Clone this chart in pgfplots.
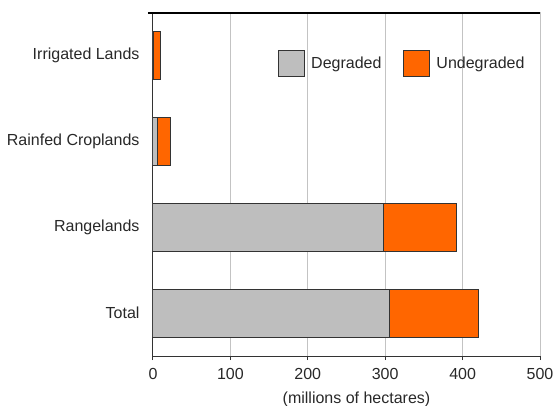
\documentclass[border=0pt]{standalone}
\usepackage{pgfplots}
\pgfplotsset{compat=1.18}
\usepackage{fontspec}
\setmainfont{Liberation Sans}
\definecolor{degr}{RGB}{190,190,190}
\definecolor{undeg}{RGB}{255,102,0}
\definecolor{edge}{RGB}{51,51,51}
\definecolor{gridc}{RGB}{195,195,195}
\definecolor{txt}{RGB}{40,40,40}

\begin{document}
\fontsize{16bp}{19bp}\selectfont
\begin{tikzpicture}
\useasboundingbox (-153bp,-50bp) rectangle (400bp,356bp);
\begin{axis}[
  scale only axis,
  width=387bp, height=343.5bp,
  xbar stacked, bar width=48bp,
  xmin=0, xmax=500, ymin=-0.5, ymax=3.5,
  xtick={0,100,...,500},
  ytick={0,1,2,3},
  yticklabels={Total, Rangelands, Rainfed Croplands, Irrigated Lands},
  axis x line*=bottom, axis y line*=left,
  axis line style={-, draw=edge, line width=1bp},
  xmajorgrids, grid style={draw=gridc, line width=1bp},
  tick align=outside, major tick length=4bp,
  xtick style={draw=edge, line width=1bp},
  ytick style={draw=none},
  /pgf/number format/assume math mode=true,
  ticklabel style={font=\fontsize{16bp}{19bp}\selectfont, text=txt},
  xticklabel style={anchor=base, yshift=-19bp},
  yticklabel style={anchor=east, xshift=-4bp},
  xlabel={(millions of hectares)},
  xlabel style={at={(axis description cs:0.5,0)}, anchor=base, yshift=-47bp, xshift=10bp,
    font=\fontsize{16bp}{19bp}\selectfont, text=txt},
  legend columns=2,
  legend style={draw=none, fill=none, inner sep=0pt, anchor=north west,
    at={(rel axis cs:0.323,0.891)}, font=\fontsize{16bp}{19bp}\selectfont, text=txt,
    nodes={inner xsep=6bp},
    /tikz/every even column/.append style={column sep=16bp}},
  legend image code/.code={\draw[#1] (0bp,-13bp) rectangle (26bp,13bp);},
]
\addplot[fill=degr, draw=edge, line width=1bp] coordinates {(305,0) (298,1) (6,2) (1,3)};
\addplot[fill=undeg, draw=edge, line width=1bp] coordinates {(116,0) (93.5,1) (16,2) (8.5,3)};
\legend{Degraded, Undegraded}
\end{axis}
% top border of the plot area, a little past the left axis line
\draw[black, line width=1.5bp] (-5bp,343bp) -- (387bp,343bp);
\end{tikzpicture}
\end{document}
